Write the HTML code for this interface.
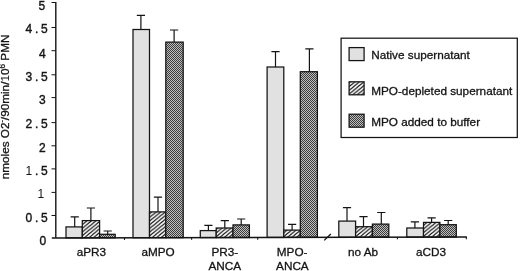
<!DOCTYPE html>
<html><head><meta charset="utf-8"><title>chart</title>
<style>
html,body{margin:0;padding:0;background:#fff;}
body{width:520px;height:271px;overflow:hidden;}
svg{display:block;}
text{font-family:"Liberation Sans",Arial,Helvetica,sans-serif;fill:#141414;stroke:#141414;stroke-width:0.3px;}
.t{font-size:11.75px;}
.yl{font-size:12px;letter-spacing:2.8px;stroke-width:0.38px;}
</style></head><body>
<svg width="520" height="271" viewBox="0 0 520 271">
<defs>
<pattern id="hatch" patternUnits="userSpaceOnUse" width="4.5" height="3.7">
<rect width="4.5" height="3.7" fill="#fff"/>
<path d="M-2.25,1.85 L2.25,-1.85 M0,3.7 L4.5,0 M2.25,5.550000000000001 L6.75,1.85" stroke="#0c0c0c" stroke-width="1.25"/>
</pattern>
<pattern id="dots" patternUnits="userSpaceOnUse" width="2" height="2">
<rect width="2" height="2" fill="#bebebe"/>
<rect x="0" y="0" width="1" height="1" fill="#3c3c3c"/>
<rect x="1" y="1" width="1" height="1" fill="#3c3c3c"/>
</pattern>
</defs>
<rect width="520" height="271" fill="#fff"/>

<rect x="66.00" y="226.90" width="16.30" height="10.95" fill="#e1e1e1" stroke="#141414" stroke-width="1.25"/>
<path d="M74.70,226.90 V216.80 M70.60,216.80 H78.80" stroke="#141414" stroke-width="1.2" fill="none"/>
<rect x="82.30" y="220.60" width="17.30" height="17.22" fill="url(#hatch)" stroke="#141414" stroke-width="1.25"/>
<path d="M90.90,220.60 V208.00 M86.80,208.00 H95.00" stroke="#141414" stroke-width="1.2" fill="none"/>
<rect x="99.60" y="234.30" width="15.60" height="3.48" fill="url(#dots)" stroke="#141414" stroke-width="1.25"/>
<path d="M107.70,234.30 V231.00 M103.60,231.00 H111.80" stroke="#141414" stroke-width="1.2" fill="none"/>
<rect x="133.00" y="29.50" width="16.50" height="208.21" fill="#e1e1e1" stroke="#141414" stroke-width="1.25"/>
<path d="M140.90,29.50 V15.40 M136.80,15.40 H145.00" stroke="#141414" stroke-width="1.2" fill="none"/>
<rect x="149.50" y="211.90" width="16.30" height="25.77" fill="url(#hatch)" stroke="#141414" stroke-width="1.25"/>
<path d="M158.00,211.90 V197.20 M153.90,197.20 H162.10" stroke="#141414" stroke-width="1.2" fill="none"/>
<rect x="165.80" y="42.10" width="17.40" height="195.53" fill="url(#dots)" stroke="#141414" stroke-width="1.25"/>
<path d="M174.10,42.10 V30.00 M170.00,30.00 H178.20" stroke="#141414" stroke-width="1.2" fill="none"/>
<rect x="200.30" y="230.60" width="15.90" height="6.96" fill="#e1e1e1" stroke="#141414" stroke-width="1.25"/>
<path d="M208.40,230.60 V225.40 M204.30,225.40 H212.50" stroke="#141414" stroke-width="1.2" fill="none"/>
<rect x="216.20" y="228.00" width="16.80" height="9.53" fill="url(#hatch)" stroke="#141414" stroke-width="1.25"/>
<path d="M224.80,228.00 V220.60 M220.70,220.60 H228.90" stroke="#141414" stroke-width="1.2" fill="none"/>
<rect x="233.00" y="224.90" width="16.40" height="12.59" fill="url(#dots)" stroke="#141414" stroke-width="1.25"/>
<path d="M241.20,224.90 V219.00 M237.10,219.00 H245.30" stroke="#141414" stroke-width="1.2" fill="none"/>
<rect x="267.10" y="67.00" width="16.70" height="170.42" fill="#e1e1e1" stroke="#141414" stroke-width="1.25"/>
<path d="M275.50,67.00 V51.60 M271.40,51.60 H279.60" stroke="#141414" stroke-width="1.2" fill="none"/>
<rect x="283.80" y="230.10" width="16.50" height="7.28" fill="url(#hatch)" stroke="#141414" stroke-width="1.25"/>
<path d="M292.10,230.10 V224.30 M288.00,224.30 H296.20" stroke="#141414" stroke-width="1.2" fill="none"/>
<rect x="300.30" y="71.70" width="17.10" height="165.64" fill="url(#dots)" stroke="#141414" stroke-width="1.25"/>
<path d="M309.40,71.70 V48.90 M305.30,48.90 H313.50" stroke="#141414" stroke-width="1.2" fill="none"/>
<rect x="338.80" y="221.10" width="16.80" height="16.16" fill="#e1e1e1" stroke="#141414" stroke-width="1.25"/>
<path d="M347.00,221.10 V207.60 M342.90,207.60 H351.10" stroke="#141414" stroke-width="1.2" fill="none"/>
<rect x="355.60" y="226.70" width="16.80" height="10.52" fill="url(#hatch)" stroke="#141414" stroke-width="1.25"/>
<path d="M363.50,226.70 V216.60 M359.40,216.60 H367.60" stroke="#141414" stroke-width="1.2" fill="none"/>
<rect x="372.40" y="224.10" width="16.40" height="13.09" fill="url(#dots)" stroke="#141414" stroke-width="1.25"/>
<path d="M381.30,224.10 V212.50 M377.20,212.50 H385.40" stroke="#141414" stroke-width="1.2" fill="none"/>
<rect x="406.80" y="228.00" width="16.70" height="9.11" fill="#e1e1e1" stroke="#141414" stroke-width="1.25"/>
<path d="M414.90,228.00 V221.80 M410.80,221.80 H419.00" stroke="#141414" stroke-width="1.2" fill="none"/>
<rect x="423.50" y="222.40" width="16.40" height="14.68" fill="url(#hatch)" stroke="#141414" stroke-width="1.25"/>
<path d="M431.60,222.40 V217.80 M427.50,217.80 H435.70" stroke="#141414" stroke-width="1.2" fill="none"/>
<rect x="439.90" y="224.70" width="16.40" height="12.34" fill="url(#dots)" stroke="#141414" stroke-width="1.25"/>
<path d="M448.20,224.70 V220.50 M444.10,220.50 H452.30" stroke="#141414" stroke-width="1.2" fill="none"/>
<path d="M55.8,2 V237.8" stroke="#141414" stroke-width="1.4" fill="none"/>
<path d="M51.8,237.90 L466.9,237.00" stroke="#141414" stroke-width="1.5" fill="none"/>
<path d="M51.5,2.5 H55.8" stroke="#141414" stroke-width="1" fill="none"/>
<path d="M51.5,27.5 H55.8" stroke="#141414" stroke-width="1" fill="none"/>
<path d="M51.5,50.7 H55.8" stroke="#141414" stroke-width="1" fill="none"/>
<path d="M51.5,74.8 H55.8" stroke="#141414" stroke-width="1" fill="none"/>
<path d="M51.5,97.6 H55.8" stroke="#141414" stroke-width="1" fill="none"/>
<path d="M51.5,122.6 H55.8" stroke="#141414" stroke-width="1" fill="none"/>
<path d="M51.5,145.8 H55.8" stroke="#141414" stroke-width="1" fill="none"/>
<path d="M51.5,168.9 H55.8" stroke="#141414" stroke-width="1" fill="none"/>
<path d="M51.5,192.4 H55.8" stroke="#141414" stroke-width="1" fill="none"/>
<path d="M51.5,215.5 H55.8" stroke="#141414" stroke-width="1" fill="none"/>
<path d="M124.5,237.74 V239.94" stroke="#141414" stroke-width="1.1" fill="none"/>
<path d="M191.6,237.60 V239.80" stroke="#141414" stroke-width="1.1" fill="none"/>
<path d="M257.7,237.45 V239.65" stroke="#141414" stroke-width="1.1" fill="none"/>
<path d="M397.4,237.15 V239.35" stroke="#141414" stroke-width="1.1" fill="none"/>
<path d="M466.3,237.00 V239.20" stroke="#141414" stroke-width="1.1" fill="none"/>
<path d="M324.2,240.4 L330.8,234" stroke="#141414" stroke-width="1.3" fill="none"/>
<text class="yl" x="48.1" y="10.0" text-anchor="end">5</text>
<text class="yl" x="50.6" y="33.3" text-anchor="end">4.5</text>
<text class="yl" x="48.6" y="57.6" text-anchor="end">4</text>
<text class="yl" x="50.6" y="80.7" text-anchor="end">3.5</text>
<text class="yl" x="48.4" y="103.8" text-anchor="end">3</text>
<text class="yl" x="50.6" y="128.4" text-anchor="end">2.5</text>
<text class="yl" x="48.6" y="151.8" text-anchor="end">2</text>
<text class="yl" x="50.6" y="175.4" text-anchor="end"><tspan stroke="none">1</tspan>.5</text>
<text class="yl" x="47.1" y="198.1" text-anchor="end"><tspan stroke="none">1</tspan></text>
<text class="yl" x="50.6" y="221.8" text-anchor="end">0.5</text>
<text class="yl" x="49.0" y="245.0" text-anchor="end">0</text>
<text class="t" transform="translate(9.4,179.3) rotate(-90)">nmoles O2<tspan font-size="7px" dy="-5.4">-</tspan><tspan dy="5.4">/90min/<tspan stroke="none">1</tspan>0</tspan><tspan font-size="8.2px" dy="-4.2">6</tspan><tspan dy="4.2"> PMN</tspan></text>
<text class="t" x="91.35" y="256.3" text-anchor="middle">aPR3</text>
<text class="t" x="158.1" y="256.3" text-anchor="middle">aMPO</text>
<text class="t" x="224.8" y="256.1" text-anchor="middle">PR3-</text>
<text class="t" x="224.8" y="269.9" text-anchor="middle">ANCA</text>
<text class="t" x="292.1" y="256.1" text-anchor="middle">MPO-</text>
<text class="t" x="292.4" y="269.9" text-anchor="middle">ANCA</text>
<text class="t" x="363.1" y="256.1" text-anchor="middle">no Ab</text>
<text class="t" x="431.05" y="256.1" text-anchor="middle">aCD3</text>
<rect x="341.1" y="38.2" width="176.2" height="99.3" fill="#fff" stroke="#141414" stroke-width="1.25"/>
<rect x="349.1" y="47.6" width="15" height="13" fill="#e1e1e1" stroke="#141414" stroke-width="1.25"/>
<rect x="349.1" y="81.8" width="15" height="13" fill="url(#hatch)" stroke="#141414" stroke-width="1.25"/>
<rect x="349.1" y="114.2" width="15" height="13" fill="url(#dots)" stroke="#141414" stroke-width="1.25"/>
<text class="t" x="371.2" y="59.2">Native supernatant</text>
<text class="t" x="371.2" y="94.6">MPO-depleted supernatant</text>
<text class="t" x="371.2" y="126.3">MPO added to buffer</text>
</svg></body></html>
